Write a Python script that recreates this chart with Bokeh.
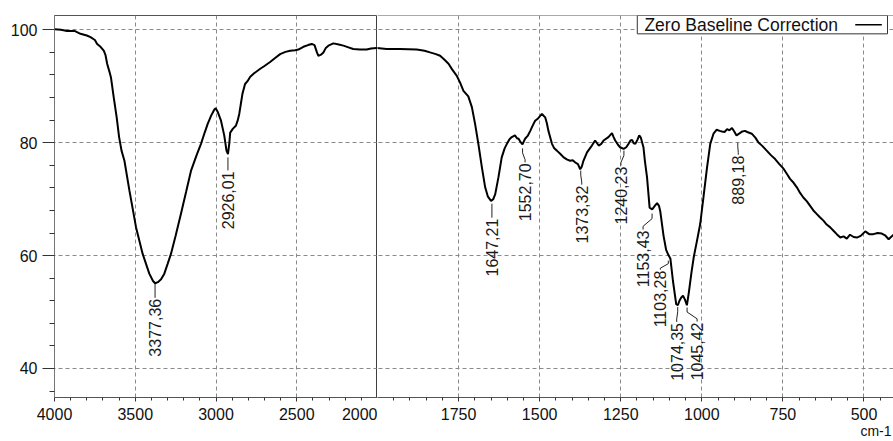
from bokeh.plotting import figure
from bokeh.layouts import row
from bokeh.models import (Range1d, FixedTicker, Span, Label, LabelSet,
                          BoxAnnotation, ColumnDataSource)
from bokeh.core.properties import value
from bokeh.embed import file_html
from bokeh.resources import INLINE

# ---------------- data ----------------
wavenumber = [
    4000, 3960, 3922, 3876, 3839, 3800, 3777, 3750, 3736, 3715, 3695, 3684,
    3674, 3660, 3650, 3633, 3615, 3600, 3585, 3567, 3536, 3495, 3454, 3413,
    3390, 3377, 3360, 3340, 3320, 3300, 3279, 3250, 3217, 3185, 3155, 3120,
    3093, 3070, 3052, 3030, 3010, 3002, 2990, 2969, 2949, 2935, 2926, 2918,
    2912, 2895, 2877, 2865, 2856, 2846, 2836, 2820, 2805, 2788, 2764, 2726,
    2700, 2665, 2630, 2603, 2570, 2541, 2510, 2490, 2459, 2430, 2407, 2390,
    2375, 2366, 2350, 2335, 2320, 2304, 2273, 2240, 2211, 2180, 2150, 2110,
    2067, 2040, 2005, 1972, 1931, 1879, 1855, 1838, 1820, 1807, 1795, 1781,
    1770, 1756, 1745, 1735, 1720, 1709, 1699, 1689, 1678, 1668, 1660, 1650,
    1643, 1637, 1627, 1617, 1608, 1601, 1593, 1586, 1576, 1570, 1565, 1560,
    1553, 1545, 1537, 1529, 1520, 1514, 1505, 1493, 1483, 1478, 1473, 1462,
    1455, 1447, 1436, 1426, 1415, 1406, 1398, 1390, 1382, 1375, 1370, 1365,
    1354, 1339, 1329, 1318, 1310, 1303, 1288, 1277, 1272, 1267, 1258, 1252,
    1241, 1233, 1226, 1220, 1215, 1210, 1205, 1198, 1193, 1188, 1180, 1175,
    1169, 1161, 1153, 1145, 1138, 1132, 1128, 1118, 1110, 1103, 1097, 1089,
    1079, 1074, 1069, 1063, 1058, 1052, 1046, 1040, 1032, 1025, 1015, 1005,
    995, 984, 974, 964, 954, 945, 938, 930, 922, 915, 907, 900, 893, 885,
    875, 867, 860, 846, 835, 826, 813, 800, 787, 774, 761, 748, 738, 728,
    717, 707, 697, 687, 676, 666, 656, 646, 636, 625, 615, 604, 594, 584,
    573, 563, 553, 543, 532, 522, 510, 496, 484, 471, 458, 445, 435, 424,
    415, 409,
]
transmittance = [
    100.1, 100.0, 99.8, 99.8, 99.3, 99.0, 98.7, 98.2, 97.5, 97.0, 96.3, 95.5,
    94.0, 92.6, 91.5, 88.0, 84.5, 81.0, 78.6, 76.8, 71.5, 65.0, 60.3, 56.8,
    55.5, 55.1, 55.3, 55.8, 56.8, 58.5, 60.3, 63.5, 67.4, 71.3, 75.0, 77.8,
    79.8, 81.8, 83.3, 84.8, 85.9, 86.1, 85.5, 83.9, 81.3, 78.6, 78.0, 79.8,
    81.8, 82.5, 83.0, 84.0, 85.1, 86.9, 88.7, 90.4, 90.9, 91.7, 92.3, 93.1,
    93.6, 94.3, 95.1, 95.7, 96.1, 96.3, 96.4, 96.5, 97.0, 97.3, 97.5, 97.3,
    96.0, 95.4, 95.6, 96.0, 96.8, 97.2, 97.6, 97.4, 97.2, 96.9, 96.6, 96.5,
    96.5, 96.7, 96.8, 96.6, 96.6, 96.5, 96.3, 96.0, 95.7, 95.4, 94.8, 94.0,
    93.0, 91.9, 90.6, 89.2, 88.2, 86.3, 83.3, 79.8, 75.6, 72.1, 70.5, 69.7,
    70.0, 70.9, 73.9, 77.4, 79.0, 79.8, 80.6, 81.0, 81.3, 80.8, 80.7, 80.2,
    79.7, 80.7, 81.2, 82.1, 83.2, 83.9, 84.3, 85.1, 84.5, 83.5, 82.1, 79.8,
    79.0, 78.6, 78.0, 77.4, 77.0, 76.8, 76.9, 76.5, 76.2, 75.3, 75.8, 76.8,
    78.3, 79.5, 80.4, 79.5, 79.8, 80.4, 81.0, 81.7, 81.0, 80.4, 79.6, 79.2,
    78.9, 79.2, 79.8, 80.4, 80.5, 79.9, 79.8, 80.6, 81.3, 80.9, 79.2, 76.5,
    73.9, 68.5, 68.2, 68.8, 69.3, 68.8, 67.8, 63.5, 61.0, 60.1, 59.5, 55.5,
    51.4, 51.2, 52.0, 52.6, 52.9, 52.2, 51.2, 53.5, 57.0, 59.7, 62.6, 65.6,
    70.3, 75.6, 79.8, 81.6, 82.3, 82.1, 82.0, 81.9, 82.4, 82.2, 82.6, 82.0,
    81.3, 81.6, 82.0, 82.1, 81.9, 81.6, 80.9, 80.1, 79.4, 78.6, 77.8, 77.1,
    76.2, 75.4, 74.5, 73.6, 72.9, 72.1, 71.1, 70.3, 69.6, 68.8, 68.0, 67.4,
    66.8, 66.2, 65.5, 65.0, 64.4, 63.8, 63.2, 63.4, 63.0, 63.7, 63.3, 63.2,
    63.5, 64.3, 63.8, 63.8, 64.0, 63.9, 63.6, 62.9, 63.4, 63.7,
]

peak_wn = [3377.36, 2926.01, 1647.21, 1552.70, 1373.32, 1240.23, 1153.43,
           1103.28, 1074.35, 1045.42, 889.18]
peak_t = [55.0, 77.4, 69.2, 79.0, 75.05, 78.6, 67.45, 59.1, 50.9, 50.8, 80.0]
peak_text = ["3377,36", "2926,01", "1647,21", "1552,70", "1373,32", "1240,23",
             "1153,43", "1103,28", "1074,35", "1045,42", "889,18"]
# label geometry in screen pixels
label_dx = [0, 0, 0, 2.5, 1, -3, -9, -8, -1, 10, 0.5]
label_lead = [15, 14, 15, 15, 15, 16, 17, 10, 16, 15, 13]

y_ticks = [40, 60, 80, 100]
y_minor = [36, 44, 48, 52, 56, 64, 68, 72, 76, 84, 88, 92, 96]
left_ticks = [4000, 3500, 3000, 2500, 2000]
left_minor = [w for w in range(2100, 4000, 100) if w % 500 != 0]
right_ticks = [1750, 1500, 1250, 1000, 750, 500]
right_minor = [w for w in range(450, 2000, 50) if w % 250 != 0]

legend_text = "Zero Baseline Correction"
y_title = "%T"
x_title = "cm-1"

# ---------------- layout ----------------
FONT = "Liberation Sans"
Y0, Y1 = 34.86, 102.54
L_W, L_BL = 377, 54
R_W = 516
H, BT, BB = 441, 15, 44
R_END = 409

y_range = Range1d(Y0, Y1)


def make(width, bl, xr, yaxis):
    p = figure(width=width, height=H, x_range=xr, y_range=y_range,
               output_backend="svg", toolbar_location=None,
               y_axis_location="left" if yaxis else None,
               min_border_left=bl, min_border_right=0,
               min_border_top=BT, min_border_bottom=BB)
    p.background_fill_color = "white"
    p.border_fill_color = "white"
    return p


p1 = make(L_W, L_BL, Range1d(4000, 2000), True)
p2 = make(R_W, 0, Range1d(2000, R_END), False)

frame_h = H - BT - BB
ppu_y = frame_h / (Y1 - Y0)
ppu_x1 = (L_W - L_BL) / 2000.0
ppu_x2 = R_W / (2000.0 - R_END)

for p, ticks, minor in ((p1, left_ticks, left_minor), (p2, right_ticks, right_minor)):
    xt = FixedTicker(ticks=ticks, minor_ticks=minor)
    yt = FixedTicker(ticks=y_ticks, minor_ticks=y_minor)
    p.xaxis.ticker = xt
    p.xgrid.ticker = xt
    p.ygrid.ticker = yt
    for g in (p.xgrid, p.ygrid):
        g.grid_line_color = "#8a8a8a"
        g.grid_line_dash = "4 3"
        g.grid_line_width = 1
    ax = p.xaxis[0]
    ax.axis_line_color = "#555555"
    ax.major_tick_line_color = "#333333"
    ax.minor_tick_line_color = "#333333"
    ax.major_tick_in = 0
    ax.major_tick_out = 4
    ax.minor_tick_in = 0
    ax.minor_tick_out = 3
    ax.major_label_standoff = 6
    ax.major_label_text_font = FONT
    ax.major_label_text_font_size = "16px"
    ax.major_label_text_color = "#111111"
    p.line(wavenumber, transmittance, line_color="black", line_width=2)

# x-axis title "cm-1" at the right end of the right panel.
# The label is centred on the frame edge, so trailing no-break spaces
# shift the visible characters back inside the canvas.
ax2 = p2.xaxis[0]
ax2.axis_label = x_title + "\u00a0" * 9
ax2.axis_label_standoff = 0
ax2.axis_label_text_font = FONT
ax2.axis_label_text_font_size = "14px"
ax2.axis_label_text_font_style = "normal"
ax2.axis_label_text_color = "#111111"
if "axis_label_align" in ax2.properties():
    ax2.axis_label_align = "start"

yax = p1.yaxis[0]
yax.ticker = FixedTicker(ticks=y_ticks, minor_ticks=y_minor)
yax.axis_line_color = "#777777"
yax.major_tick_line_color = "#333333"
yax.minor_tick_line_color = "#333333"
yax.major_tick_in = 0
yax.major_tick_out = 12
yax.minor_tick_in = 0
yax.minor_tick_out = 5
yax.major_label_standoff = 5
yax.major_label_text_font = FONT
yax.major_label_text_font_size = "16px"
yax.major_label_text_color = "#111111"

p1.outline_line_color = "#555555"
p2.outline_line_color = None
p2.add_layout(Span(location=Y1, dimension="width", line_color="#555555", line_width=1))
p1.add_layout(Span(location=2000, dimension="height", line_color="black", line_width=1.5))

# ---------------- peak labels ----------------
for p, ppu_x, side in ((p1, ppu_x1, lambda w: w >= 2000), (p2, ppu_x2, lambda w: w < 2000)):
    idx = [i for i, w in enumerate(peak_wn) if side(w)]
    xs, ys, lx, ly, lt = [], [], [], [], []
    for i in idx:
        w, t, dx, lead = peak_wn[i], peak_t[i], label_dx[i], label_lead[i]
        wx = w - dx / ppu_x
        if dx == 0:
            xs.append([w, w])
            ys.append([t, t - (lead - 1) / ppu_y])
        else:
            xs.append([w, w, wx, wx])
            ys.append([t, t - 0.3 * lead / ppu_y, t - 0.75 * lead / ppu_y,
                       t - (lead - 1) / ppu_y])
        lx.append(wx)
        ly.append(t - lead / ppu_y)
        lt.append(peak_text[i])
    p.multi_line(xs, ys, line_color="#222222", line_width=1)
    src = ColumnDataSource(dict(x=lx, y=ly, text=lt))
    p.add_layout(LabelSet(x="x", y="y", text="text", source=src, angle=90,
                          angle_units="deg", text_align="right",
                          text_baseline="middle", text_font=value(FONT),
                          text_font_size=value("16px"), text_color="#1a1a1a"))

# ---------------- titles and legend ----------------
p1.add_layout(Label(x=4000, y=90.1, x_offset=-42, text=y_title, text_font=FONT,
                    text_font_size="16px", text_baseline="middle",
                    text_align="left", text_color="#111111"))

p2.add_layout(BoxAnnotation(left=1199, right=427.5, top=Y1, bottom=99.29,
                            fill_color="white", fill_alpha=1.0,
                            line_color="#333333", line_width=1, line_alpha=1.0))
p2.add_layout(Label(x=1177, y=100.9, text=legend_text, text_font=FONT,
                    text_font_size="17.5px", text_baseline="middle",
                    text_color="#111111"))
p2.line([527, 445], [100.9, 100.9], line_color="black", line_width=1.5,
        level="overlay")

layout = row(p1, p2, spacing=0)
open("out.html", "w").write(file_html(layout, INLINE))
